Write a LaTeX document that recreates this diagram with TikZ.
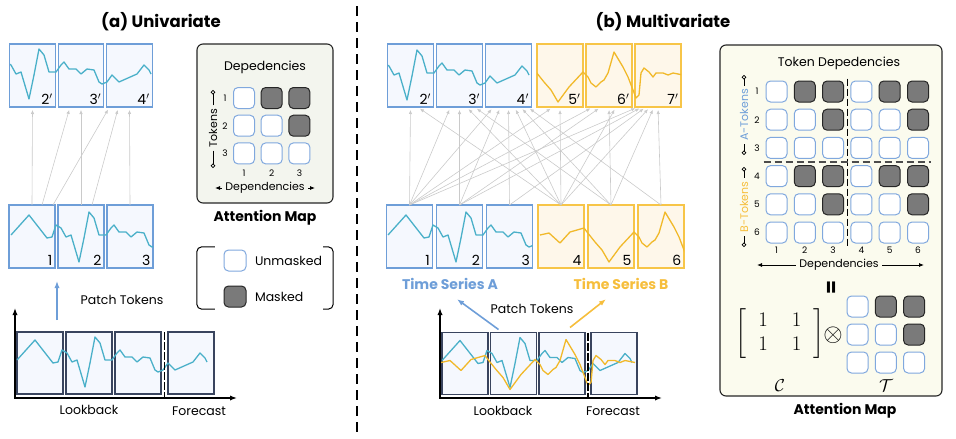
\documentclass[tikz,border=0pt]{standalone}
\usepackage{fontspec}
\setmainfont{Poppins}
\usepackage{amsmath}
\usetikzlibrary{positioning,arrows.meta,calc}

\definecolor{patchblue}{HTML}{6E9ED8}
\definecolor{patchfillA}{HTML}{F5F8FE}
\definecolor{patchyellow}{HTML}{F7C548}
\definecolor{patchfillB}{HTML}{FEF7EA}
\definecolor{curveA}{HTML}{4AB0C9}
\definecolor{curveB}{HTML}{F1B92A}
\definecolor{lookedge}{HTML}{39445E}
\definecolor{mapfillA}{HTML}{F3F5EE}
\definecolor{mapfillB}{HTML}{FBFBEE}
\definecolor{cellblue}{HTML}{80A8DE}
\definecolor{maskgray}{HTML}{7A7A7A}
\definecolor{depgray}{HTML}{CACACA}
\definecolor{seriesBtxt}{HTML}{F6BE3C}

% the two series, measured from the top left corner of the first lookback patch
\newcommand{\seriesA}{(0,28) -- (18,8) -- (36,31) -- (41,30) -- (45,18) -- (50,21) -- (55,30) -- (60,28) -- (68,55) -- (73,31) -- (78,5) -- (83,11) -- (88,28) -- (95,28) -- (100,21) -- (103,18) -- (108,25) -- (115,25) -- (120,30) -- (126,25) -- (133,26) -- (138,38) -- (141,40) -- (146,38) -- (151,31) -- (158,38) -- (176,30) -- (183,21) -- (188,26) -- (190,30)}
\newcommand{\seriesB}{(-1,30) -- (8,28) -- (19,38) -- (29,27) -- (43,23) -- (46,27) -- (54,37) -- (61,45) -- (68,57) -- (79,42) -- (93,27) -- (98,32) -- (101,38) -- (106,42) -- (111,37) -- (114,35) -- (118,28) -- (124,7) -- (133,22) -- (138,32) -- (143,45) -- (146,53) -- (149,50) -- (151,28) -- (154,23) -- (159,27) -- (163,32) -- (166,28) -- (173,28) -- (178,30) -- (183,28) -- (193,30)}

\tikzset{
  patchA/.style={draw=patchblue, fill=patchfillA, line width=1.3pt, minimum width=46pt, minimum height=63pt, inner sep=0pt, outer sep=0pt},
  patchB/.style={patchA, draw=patchyellow, fill=patchfillB},
  lookpatch/.style={patchA, draw=lookedge, minimum height=62pt},
  num/.style={anchor=south east, inner sep=2.5pt, font=\fontsize{14}{14}\selectfont},
  lineA/.style={curveA, line width=1.3pt, line join=round},
  lineB/.style={curveB, line width=1.3pt, line join=round},
  dep/.style={depgray, line width=0.6pt, -{Latex[length=4pt,width=3.5pt]}, shorten >=3pt},
  unmasked/.style={draw=cellblue, fill=white, rounded corners=4.5pt, line width=1pt, minimum size=21pt, inner sep=0pt},
  masked/.style={unmasked, draw=black!85, fill=maskgray},
  mapbox/.style={draw=black!85, rounded corners=6pt, line width=1.1pt},
  title/.style={font=\bfseries\fontsize{16.5}{19}\selectfont},
  caption/.style={font=\bfseries\fontsize{14}{16}\selectfont},
  txt/.style={font=\fontsize{12.5}{14}\selectfont},
  dtxt/.style={font=\fontsize{11}{13}\selectfont},
  tiny/.style={font=\fontsize{9}{10}\selectfont},
  tslabel/.style={font=\bfseries\fontsize{14}{16}\selectfont},
  tokline/.style={line width=0.8pt, -{Circle[open,length=4.5pt,line width=0.8pt]}},
  deparrow/.style={line width=0.8pt, -{Latex[length=5pt,width=4pt]}},
  axis/.style={line width=1.5pt, {Latex[length=7pt]}-{Latex[length=7pt]}},
  fdash/.style={line width=1.3pt, dash pattern=on 8pt off 2pt},
  patcharrow/.style={line width=1.6pt, -{Latex[length=7pt]}},
}

\begin{document}
\begin{tikzpicture}[x=1pt, y=-1pt, node distance=3pt]
\useasboundingbox (0,0) rectangle (956,439);

% ---------- (a) univariate ----------
\node[title] (titA) at (161,22) {(a) Univariate};

\node[patchA, minimum width=45.5pt] (oa2) at (32.5,75.5) {};
\node[patchA, minimum width=45.5pt, right=of oa2] (oa3) {};
\node[patchA, minimum width=45.5pt, right=of oa3] (oa4) {};
\begin{scope}
  \clip (oa2.north west) rectangle (oa4.south east);
  \draw[lineA, shift={(-39,44)}] \seriesA;
\end{scope}
\node[num] at (oa2.south east) {2$'$};
\node[num] at (oa3.south east) {3$'$};
\node[num] at (oa4.south east) {4$'$};

\node[patchA] (ia1) at (32,236.5) {};
\node[patchA, right=of ia1] (ia2) {};
\node[patchA, right=of ia2] (ia3) {};
\begin{scope}
  \clip (ia1.north west) rectangle (ia3.south east);
  \draw[lineA, shift={(11,207)}] \seriesA;
\end{scope}
\node[num] at (ia1.south east) {1};
\node[num] at (ia2.south east) {2};
\node[num] at (ia3.south east) {3};

\draw[dep] (ia1.north) -- (oa2.south);
\draw[dep] ([xshift=10pt]ia1.north) -- ([xshift=-11pt]oa3.south);
\draw[dep] ([xshift=21pt]ia1.north) -- ([xshift=-20pt]oa4.south);
\draw[dep] (ia2.north) -- (oa3.south);
\draw[dep] ([xshift=11pt]ia2.north) -- ([xshift=-11pt]oa4.south);
\draw[dep] (ia3.north) -- (oa4.south);

% lookback window
\node[lookpatch] (la1) at (40,363) {};
\node[lookpatch, right=of la1] (la2) {};
\node[lookpatch, right=of la2] (la3) {};
\node[lookpatch, right=7pt of la3] (la4) {};
\draw[lineA] [shift={(la1.north west)}] \seriesA;
\draw[fdash] ($(la3.north east)!.5!(la4.north west)$) -- ++(0,66);
\coordinate (yA) at (15,308);
\coordinate (oA) at (15,398);
\coordinate (xA) at (237,398);
\draw[axis] (yA) -- (oA) -- (xA);
\node[txt] (lookA) at (89,410) {Lookback};
\node[txt] (foreA) at (199,411) {Forecast};

\node[txt] (ptA) at (122,300) {Patch Tokens};
\draw[patcharrow, patchblue] ([xshift=17pt,yshift=12pt]la1.north) -- ([xshift=25pt,yshift=-13pt]ia1.south);

% attention map
\node[mapbox, fill=mapfillA, minimum width=136pt, minimum height=159pt] (mapA) at (265,123.5) {};
\node[txt] (depTitA) at (265,67) {Depedencies};
\foreach \row in {1,2,3}{
  \node[tiny] at (225,{98+27.7*(\row-1)}) {\row};
  \node[tiny] at ({244+27.7*(\row-1)},173) {\row};
  \foreach \col in {1,2,3}{
    \ifnum\col>\row \def\cellsty{masked}\else\def\cellsty{unmasked}\fi
    \node[\cellsty] (a-\row-\col) at ({244+27.7*(\col-1)},{98+27.7*(\row-1)}) {};
  }
}
\node[dtxt, rotate=90] (tokA) at (213,128) {Tokens};
\coordinate (tokA1) at (213,90);
\coordinate (tokA2) at (213,168);
\draw[tokline] (tokA) -- (tokA1);
\draw[tokline] (tokA) -- (tokA2);
\node[dtxt] (depsA) at (265,188) {Dependencies};
\coordinate (depsA1) at (215,188);
\coordinate (depsA2) at (315,188);
\draw[deparrow] (depsA) -- (depsA1);
\draw[deparrow] (depsA) -- (depsA2);
\node[caption] (capA) at (265,218) {Attention Map};

% legend
\node[minimum width=136pt, minimum height=62pt, inner sep=0pt] (legend) at (265,278) {};
\draw[line width=1pt, rounded corners=5pt] ([xshift=18pt]legend.north west) -- (legend.north west) -- (legend.south west) -- ([xshift=18pt]legend.south west);
\draw[line width=1pt, rounded corners=5pt] ([xshift=-10pt]legend.north east) -- (legend.north east) -- (legend.south east) -- ([xshift=-10pt]legend.south east);
\node[unmasked, minimum width=22pt] (swU) at (235,260.5) {};
\node[txt, right=5pt of swU] (swUt) {Unmasked};
\node[masked, minimum width=22pt] (swM) at (235,296.5) {};
\node[txt, right=5pt of swM] (swMt) {Masked};

% separator
\draw[line width=1.4pt, dash pattern=on 10pt off 6pt] (357,6) -- (357,435);

% ---------- (b) multivariate ----------
\node[title] (titB) at (663,22) {(b) Multivariate};

\node[patchA] (ob2) at (410.5,75.5) {};
\node[patchA, right=of ob2] (ob3) {};
\node[patchA, right=of ob3] (ob4) {};
\node[patchB, right=5.5pt of ob4] (ob5) {};
\node[patchB, right=of ob5] (ob6) {};
\node[patchB, right=of ob6] (ob7) {};
\begin{scope}
  \clip (ob2.north west) rectangle (ob4.south east);
  \draw[lineA, shift={(339,45)}] \seriesA;
\end{scope}
\begin{scope}
  \clip (ob5.north west) rectangle (ob7.south east);
  \draw[lineB, shift={(490,45)}] \seriesB;
\end{scope}
\foreach \i in {2,...,7} \node[num] at (ob\i.south east) {\i$'$};

\node[patchA] (ib1) at (409.5,236.5) {};
\node[patchA, right=4pt of ib1] (ib2) {};
\node[patchA, right=4pt of ib2] (ib3) {};
\node[patchB, right=5.5pt of ib3] (ib4) {};
\node[patchB, right=4pt of ib4] (ib5) {};
\node[patchB, right=4pt of ib5] (ib6) {};
\begin{scope}
  \clip (ib1.north west) rectangle (ib3.south east);
  \draw[lineA, shift={(388,207)}] \seriesA;
\end{scope}
\begin{scope}
  \clip (ib4.north west) rectangle (ib6.south east);
  \draw[lineB, shift={(541,205)}] \seriesB;
\end{scope}
\foreach \i in {1,...,6} \node[num] at (ib\i.south east) {\i};

\foreach \s/\d/\o in {1/2/0, 4/2/7, 1/3/-9, 2/3/0, 4/3/7, 5/3/15,
    1/4/-15, 2/4/-8, 3/4/0, 4/4/6, 5/4/12, 6/4/19, 1/5/-7, 4/5/0,
    1/6/-16, 2/6/-8, 5/6/0, 4/6/7, 1/7/-20, 2/7/-16, 3/7/-12, 4/7/-8, 5/7/-4, 6/7/0}
  \draw[dep] (ib\s.north) -- ([xshift=\o pt]ob\d.south);

\node[tslabel, text=patchblue] (tsA) at (450,284) {Time Series A};
\node[tslabel, text=seriesBtxt] (tsB) at (621,284) {Time Series B};

% lookback window
\node[lookpatch] (lb1) at (465,363.5) {};
\node[lookpatch, right=2.5pt of lb1] (lb2) {};
\node[lookpatch, right=2.5pt of lb2] (lb3) {};
\node[lookpatch, right=6pt of lb3] (lb4) {};
\draw[lineA] [shift={(lb1.north west)}] \seriesA;
\draw[lineB] [shift={(lb1.north west)}] \seriesB;
\draw[fdash] ($(lb3.north east)!.5!(lb4.north west)$) -- ++(0,65);
\coordinate (yB) at (440,308);
\coordinate (oB) at (440,398);
\coordinate (xB) at (662,398);
\draw[axis] (yB) -- (oB) -- (xB);
\node[txt] (lookB) at (503,411) {Lookback};
\node[txt] (foreB) at (613,411) {Forecast};

\node[txt] (ptB) at (532,309) {Patch Tokens};
\draw[patcharrow, patchblue] ([xshift=-15pt,yshift=3pt]lb2.north) -- ([xshift=7pt,yshift=-6pt]tsA.south);
\draw[patcharrow, seriesBtxt] ([xshift=8pt,yshift=5pt]lb3.north) -- ([xshift=-15pt,yshift=-6pt]tsB.south);

% attention map
\node[mapbox, fill=mapfillB, minimum width=222pt, minimum height=351pt] (mapB) at (831,220.5) {};
\node[txt] (depTitB) at (839,63) {Token Depedencies};
\foreach \row in {1,...,6}{
  \node[tiny] at (757,{91.5+28.2*(\row-1)}) {\row};
  \node[tiny] at ({776.5+28.3*(\row-1)},250) {\row};
  \foreach \col in {1,...,6}{
    \pgfmathtruncatemacro\rr{mod(\row-1,3)}
    \pgfmathtruncatemacro\cc{mod(\col-1,3)}
    \ifnum\cc>\rr \def\cellsty{masked}\else\def\cellsty{unmasked}\fi
    \node[\cellsty] (b-\row-\col) at ({776.5+28.3*(\col-1)},{91.5+28.2*(\row-1)}) {};
  }
}
\draw[line width=1pt, dash pattern=on 7pt off 3pt]
  ([yshift=2pt]$(b-1-3.north east)!.5!(b-1-4.north west)$) -- ([yshift=-3pt]$(b-6-3.south east)!.5!(b-6-4.south west)$);
\draw[black!70, line width=1.5pt, dash pattern=on 7pt off 4pt]
  ([xshift=-2pt]$(b-3-1.south west)!.5!(b-4-1.north west)$) -- ([xshift=2pt]$(b-3-6.south east)!.5!(b-4-6.north east)$);

\node[dtxt, rotate=90, text=patchblue] (tokBA) at (744,115) {A-Tokens};
\coordinate (tokBA1) at (744,75);
\coordinate (tokBA2) at (744,155);
\draw[tokline] (tokBA) -- (tokBA1);
\draw[tokline] (tokBA) -- (tokBA2);
\node[dtxt, rotate=90, text=seriesBtxt] (tokBB) at (744,207) {B-Tokens};
\coordinate (tokBB1) at (744,167);
\coordinate (tokBB2) at (744,247);
\draw[tokline] (tokBB) -- (tokBB1);
\draw[tokline] (tokBB) -- (tokBB2);

\node[dtxt] (depsB) at (839,265) {Dependencies};
\coordinate (depsB1) at (757,265);
\coordinate (depsB2) at (924,265);
\draw[deparrow] (depsB) -- (depsB1);
\draw[deparrow] (depsB) -- (depsB2);

\node[rotate=90, font=\bfseries\fontsize{20}{20}\selectfont] (eqsign) at (833,288) {=};
\node[font=\fontsize{20}{24}\selectfont] (cmat) at (780,334)
  {\setlength\arraycolsep{12pt}$\left[\begin{array}{cc}1&1\\1&1\end{array}\right]$};
\node[font=\fontsize{24}{28}\selectfont] (kron) at (833,335) {$\otimes$};
\foreach \row in {1,2,3}
  \foreach \col in {1,2,3}{
    \ifnum\col>\row \def\cellsty{masked}\else\def\cellsty{unmasked}\fi
    \node[\cellsty] (t-\row-\col) at ({857.5+28.3*(\col-1)},{306.5+28*(\row-1)}) {};
  }
\node[font=\fontsize{18}{20}\selectfont] (cname) at (780,386) {$\mathcal{C}$};
\node[font=\fontsize{18}{20}\selectfont] (tname) at (886,386) {$\mathcal{T}$};
\node[caption] (capB) at (845,411) {Attention Map};
\end{tikzpicture}
\end{document}
